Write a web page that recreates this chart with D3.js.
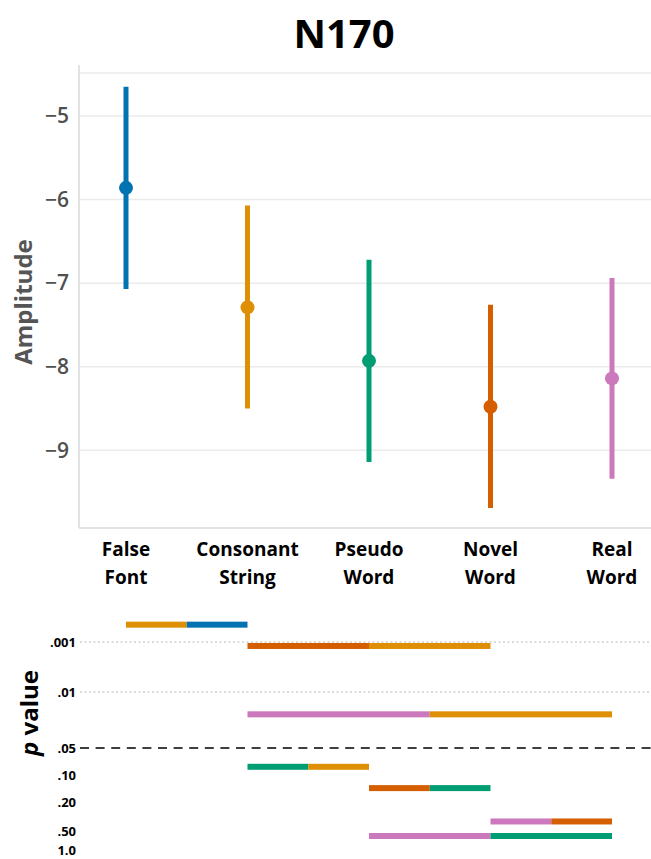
<!DOCTYPE html>
<html>
<head>
<meta charset="utf-8">
<script src="https://cdn.jsdelivr.net/npm/d3@7"></script>
<style>
  body { margin: 0; background: #fff; }
  text { font-family: "Open Sans", sans-serif; }
</style>
</head>
<body>
<svg id="chart"></svg>
<script>
// top panel: N170 amplitude per condition (mean and 95% CI)
var conditions = ["False Font", "Consonant String", "Pseudo Word", "Novel Word", "Real Word"];
var means  = [-5.86, -7.29, -7.93, -8.48, -8.14];
var ciLow  = [-7.07, -8.50, -9.14, -9.69, -9.34];
var ciHigh = [-4.65, -6.07, -6.72, -7.26, -6.94];
var colors = ["#0173b2", "#de8f05", "#029e73", "#d55e00", "#cc78bc"];
var yTicks = [-9, -8, -7, -6, -5];

// bottom panel: pairwise comparisons
var pairA   = ["False Font", "Consonant String", "Consonant String", "Consonant String", "Pseudo Word", "Novel Word", "Pseudo Word"];
var pairB   = ["Consonant String", "Novel Word", "Real Word", "Pseudo Word", "Novel Word", "Real Word", "Real Word"];
var pValues = [0.00045, 0.0012, 0.019, 0.081, 0.14, 0.37, 0.60];
var pTicks      = [0.001, 0.01, 0.05, 0.10, 0.20, 0.50, 1.0];
var pTickLabels = [".001", ".01", ".05", ".10", ".20", ".50", "1.0"];

var width = 651, height = 859;
var svg = d3.select("#chart").attr("width", width).attr("height", height);

var x = d3.scalePoint().domain(conditions).range([126, 612]);
var y = d3.scaleLinear().domain([-9.93, -4.39]).range([528, 65]);
var color = d3.scaleOrdinal().domain(conditions).range(colors);

// title
svg.append("text")
    .attr("x", 344).attr("y", 48)
    .attr("text-anchor", "middle")
    .style("font-size", "40px").style("font-weight", "bold")
    .text("N170");

// grid
svg.append("g").selectAll("line")
    .data(yTicks)
    .enter().append("line")
    .attr("x1", 80).attr("x2", width)
    .attr("y1", d => y(d)).attr("y2", d => y(d))
    .attr("stroke", "#ebebeb").attr("stroke-width", 1.5);
svg.append("line")
    .attr("x1", 80).attr("x2", width).attr("y1", 73).attr("y2", 73)
    .attr("stroke", "#ebebeb").attr("stroke-width", 1.5);

// spines
svg.append("line").attr("x1", 79).attr("x2", 79).attr("y1", 65).attr("y2", 528)
    .attr("stroke", "#d9d9d9").attr("stroke-width", 1.5);
svg.append("line").attr("x1", 79).attr("x2", width).attr("y1", 528).attr("y2", 528)
    .attr("stroke", "#d9d9d9").attr("stroke-width", 1.5);

// y tick labels
svg.append("g").selectAll("text")
    .data(yTicks)
    .enter().append("text")
    .attr("x", 69).attr("y", d => y(d))
    .attr("dy", "0.35em")
    .attr("text-anchor", "end")
    .attr("fill", "#505050")
    .style("font-size", "21px").style("font-weight", 600)
    .text(d => "\u2212" + Math.abs(d));

svg.append("text")
    .attr("transform", "translate(32,302) rotate(-90)")
    .attr("text-anchor", "middle")
    .attr("fill", "#555")
    .style("font-size", "24px").style("font-weight", "bold")
    .text("Amplitude");

// x tick labels (two lines)
var xl = svg.append("g").selectAll("text")
    .data(conditions)
    .enter().append("text")
    .attr("text-anchor", "middle")
    .style("font-size", "19px").style("font-weight", "bold");
xl.each(function(d) {
    var parts = d.split(" ");
    var t = d3.select(this);
    parts.forEach(function(p, i) {
        t.append("tspan").attr("x", x(d)).attr("y", 556 + i * 28).text(p);
    });
});

// error bars and means
var marks = svg.append("g").selectAll("g")
    .data(conditions)
    .enter().append("g");
marks.append("line")
    .attr("x1", d => x(d)).attr("x2", d => x(d))
    .attr("y1", (d, i) => y(ciLow[i])).attr("y2", (d, i) => y(ciHigh[i]))
    .attr("stroke", d => color(d)).attr("stroke-width", 5);
marks.append("circle")
    .attr("cx", d => x(d)).attr("cy", (d, i) => y(means[i]))
    .attr("r", 7)
    .attr("fill", d => color(d));

// bottom panel
var pY = d3.scaleLinear()
    .domain(pTicks.map(Math.log10))
    .range([642, 692, 748, 775, 802, 831, 850]);

svg.append("g").selectAll("text")
    .data(pTicks)
    .enter().append("text")
    .attr("x", 76).attr("y", d => pY(Math.log10(d)))
    .attr("dy", "0.35em")
    .attr("text-anchor", "end")
    .style("font-size", "13px").style("font-weight", "bold")
    .text((d, i) => pTickLabels[i]);

svg.append("g").selectAll("line")
    .data(pTicks.slice(0, 2))
    .enter().append("line")
    .attr("x1", 80).attr("x2", width)
    .attr("y1", d => pY(Math.log10(d))).attr("y2", d => pY(Math.log10(d)))
    .attr("stroke", "#cfcfcf").attr("stroke-width", 1.5)
    .attr("stroke-dasharray", "2,2.5");

svg.append("line")
    .attr("x1", 80).attr("x2", width)
    .attr("y1", pY(Math.log10(0.05))).attr("y2", pY(Math.log10(0.05)))
    .attr("stroke", "#000").attr("stroke-width", 1.5)
    .attr("stroke-dasharray", "9,6.6");

var pText = svg.append("text")
    .attr("transform", "translate(38,713) rotate(-90)")
    .attr("text-anchor", "middle")
    .style("font-size", "24px").style("font-weight", "bold");
pText.append("tspan").style("font-style", "italic").text("p");
pText.append("tspan").text(" value");

var pairs = svg.append("g").selectAll("g")
    .data(pValues)
    .enter().append("g");
pairs.append("rect")
    .attr("x", (d, i) => x(pairA[i]))
    .attr("y", d => pY(Math.log10(d)) - 3)
    .attr("width", (d, i) => (x(pairB[i]) - x(pairA[i])) / 2)
    .attr("height", 6)
    .attr("fill", (d, i) => color(pairB[i]));
pairs.append("rect")
    .attr("x", (d, i) => (x(pairA[i]) + x(pairB[i])) / 2)
    .attr("y", d => pY(Math.log10(d)) - 3)
    .attr("width", (d, i) => (x(pairB[i]) - x(pairA[i])) / 2)
    .attr("height", 6)
    .attr("fill", (d, i) => color(pairA[i]));
</script>
</body>
</html>
